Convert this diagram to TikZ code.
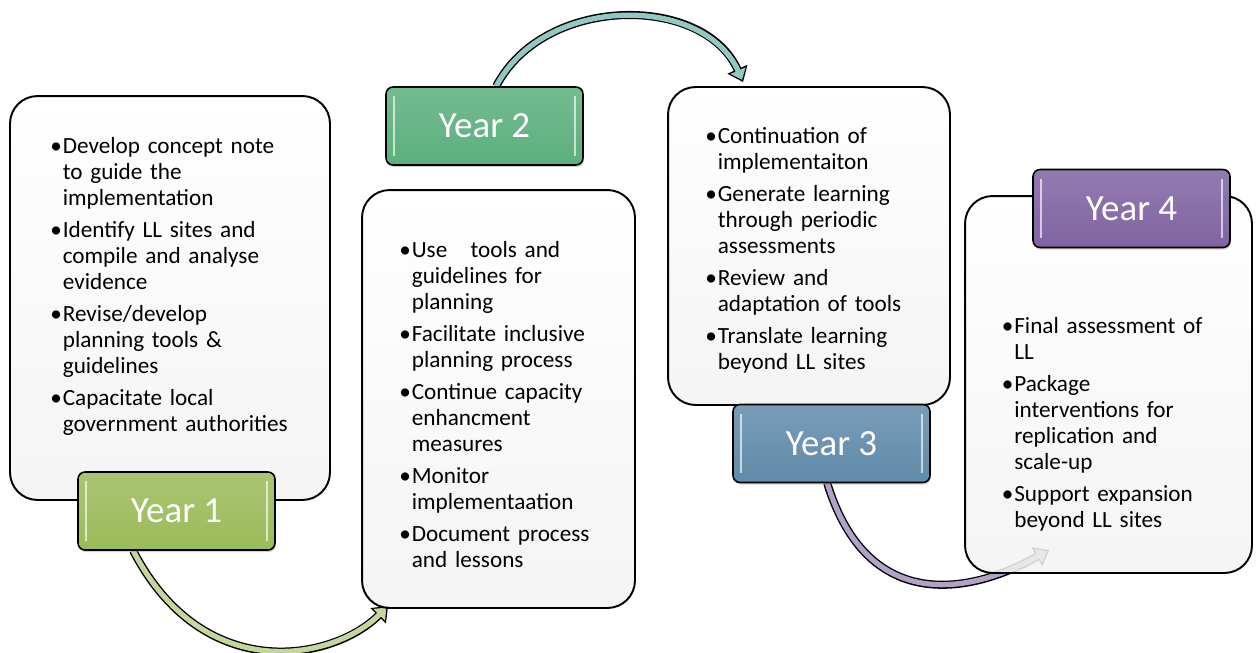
\documentclass[tikz,border=0pt]{standalone}
\usepackage{fontspec}
\setmainfont{Carlito}
\usetikzlibrary{calc,arrows.meta,backgrounds,shadows}

\definecolor{yearone}{RGB}{155,187,89}
\definecolor{yeartwo}{RGB}{92,175,125}
\definecolor{yearthree}{RGB}{96,139,170}
\definecolor{yearfour}{RGB}{128,100,162}
\definecolor{arrowone}{RGB}{195,214,155}
\definecolor{arrowtwo}{RGB}{146,200,196}
\definecolor{arrowthree}{RGB}{179,162,199}

% one bullet point of a task list
\newcommand{\yitem}[1]{\par\hangindent=0.25cm\hangafter=1\noindent\makebox[0.25cm][l]{\textbullet}#1\par\vspace{3.4pt}}

\tikzset{
  taskbox/.style={draw, line width=1.1pt, rounded corners=0.55cm, top color=white, bottom color=black!5, fill opacity=0.86},
  yearbox/.style={draw, line width=0.9pt, rounded corners=0.14cm, top color=#1!85!white, bottom color=#1,
    text=white, font=\fontsize{21}{25}\selectfont, minimum width=3.94cm, minimum height=1.56cm,
    drop shadow={opacity=0.35, shadow xshift=0.5pt, shadow yshift=-1.2pt},
    path picture={
      \draw[white, opacity=0.65, line width=1.6pt]
        ($(path picture bounding box.north west)+(8,9)$) -- ($(path picture bounding box.south west)+(8,-9)$)
        ($(path picture bounding box.north east)+(-8,9)$) -- ($(path picture bounding box.south east)+(-8,-9)$);
    }},
  tasktext/.style={anchor=north west, inner sep=0pt, text width=5.4cm, align=left, font=\fontsize{13.2}{14.8}\selectfont},
  loopout/.style={line width=4.6pt, black, -{Triangle[length=0.28cm, width=0.42cm]}},
  loopin/.style={line width=3pt, #1, shorten >=0.05cm, -{Triangle[length=0.2cm, width=0.32cm]}},
}

\begin{document}
\begin{tikzpicture}[x=0.02cm, y=-0.02cm]
\useasboundingbox (0,0) rectangle (1256,652);

% Task boxes
\node[taskbox, minimum width=6.4cm, minimum height=8.08cm] (b1) at (170,298) {};
\node[taskbox, minimum width=5.46cm, minimum height=8.36cm] (b2) at (498.5,399) {};
\node[taskbox, minimum width=5.64cm, minimum height=6.36cm] (b3) at (809,246) {};
\node[taskbox, minimum width=5.74cm, minimum height=7.54cm] (b4) at (1108.5,384.5) {};

% Task lists
\node[tasktext] (t1) at (50,127) {
  \yitem{Develop concept note\newline to guide the\newline implementation}
  \yitem{Identify LL sites and\newline compile and analyse\newline evidence}
  \yitem{Revise/develop\newline planning tools \&\newline guidelines}
  \yitem{Capacitate local\newline government authorities}};
\node[tasktext] (t2) at (399,231) {
  \yitem{Use\ \ \ tools and\newline guidelines for\newline planning}
  \yitem{Facilitate inclusive\newline planning process}
  \yitem{Continue capacity\newline enhancment\newline measures}
  \yitem{Monitor\newline implementaation}
  \yitem{Document process\newline and lessons}};
\node[tasktext] (t3) at (705,117) {
  \yitem{Continuation of\newline implementaiton}
  \yitem{Generate learning\newline through periodic\newline assessments}
  \yitem{Review and\newline adaptation of tools}
  \yitem{Translate learning\newline beyond LL sites}};
\node[tasktext] (t4) at (1001.5,307) {
  \yitem{Final assessment of\newline LL}
  \yitem{Package\newline interventions for\newline replication and\newline scale-up}
  \yitem{Support expansion\newline beyond LL sites}};

% Year labels
\node[yearbox=yearone] (y1) at (176.5,511) {Year 1};
\node[yearbox=yeartwo] (y2) at (484.5,126) {Year 2};
\node[yearbox=yearthree] (y3) at (831.5,443.5) {Year 3};
\node[yearbox=yearfour] (y4) at (1131.5,208.5) {Year 4};

% Arrows from year to year
\coordinate (a1s) at ($(y1.south west)+(56,0)$);
\coordinate (a1e) at ($(b2.south west)+(27,-3)$);
\coordinate (a2s) at ($(y2.north west)+(111,0)$);
\coordinate (a2e) at ($(b3.north west)+(76,-4)$);
\coordinate (a3s) at ($(y3.south west)+(95,0)$);
\coordinate (a3e) at ($(b4.south west)+(85,-24)$);
\begin{scope}[on background layer]
\draw[loopout] (a1s) .. controls +(70,135) and +(-55,55) .. (a1e);
\draw[loopin=arrowone] (a1s) .. controls +(70,135) and +(-55,55) .. (a1e);
\draw[loopout] (a2s) .. controls +(48,-92) and +(-39,-88) .. (a2e);
\draw[loopin=arrowtwo] (a2s) .. controls +(48,-92) and +(-39,-88) .. (a2e);
\draw[loopout] (a3s) .. controls +(40,130) and +(-80,45) .. (a3e);
\draw[loopin=arrowthree] (a3s) .. controls +(40,130) and +(-80,45) .. (a3e);
\end{scope}

\end{tikzpicture}
\end{document}
